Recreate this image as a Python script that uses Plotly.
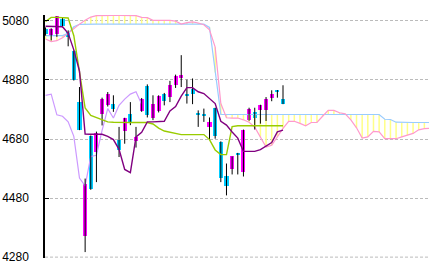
import plotly.graph_objects as go

# ---- data ----
opens  = [5054, 5028, 5037, 5086, 5042, 4978, 4805, 4353, 4689, 4636, 4766, 4794, 4800, 4676, 4707,
          4766, 4673, 4775, 4859, 4752, 4775, 4834, 4822, 4862, 4887, 4832, 4851, 4765, 4766, 4721,
          4786, 4670, 4555, 4577, 4633, 4568, 4746, 4771, 4777, 4777, 4820, 4845, 4814]
highs  = [5058, 5055, 5096, 5090, 5048, 4980, 4856, 4546, 4692, 4705, 4820, 4839, 4828, 4721, 4752,
          4805, 4721, 4819, 4865, 4828, 4828, 4836, 4877, 4898, 4964, 4881, 4885, 4777, 4783, 4753,
          4786, 4672, 4597, 4621, 4633, 4712, 4786, 4786, 4796, 4822, 4845, 4846, 4862]
lows   = [5030, 5014, 5026, 5058, 4994, 4878, 4710, 4297, 4508, 4534, 4726, 4790, 4772, 4619, 4664,
          4727, 4651, 4772, 4753, 4744, 4770, 4794, 4805, 4853, 4856, 4800, 4798, 4721, 4738, 4676,
          4681, 4534, 4489, 4560, 4560, 4553, 4742, 4712, 4732, 4741, 4808, 4820, 4798]
closes = [5035, 5052, 5096, 5063, 5026, 4880, 4712, 4526, 4511, 4700, 4814, 4831, 4781, 4642, 4752,
          4736, 4687, 4814, 4760, 4798, 4825, 4809, 4862, 4893, 4896, 4828, 4832, 4762, 4757, 4738,
          4689, 4548, 4521, 4621, 4625, 4709, 4783, 4751, 4794, 4815, 4832, 4840, 4798]

tenkan = [5062, 5062, 5062, 5060, 5038, 4982, 4910, 4697, 4696, 4696, 4696, 4689, 4678, 4645, 4577,
          4566, 4687, 4703, 4738, 4738, 4738, 4740, 4775, 4790, 4825, 4854, 4854, 4840, 4834, 4817,
          4800, 4740, 4727, 4704, 4683, 4638, 4638, 4638, 4644, 4655, 4668, 4704, 4710]
kijun  = [5078, 5092, 5092, 5092, 5090, 5030, 4905, 4785, 4760, 4752, 4745, 4738, 4737, 4736, 4736,
          4736, 4736, 4736, 4736, 4731, 4717, 4707, 4703, 4697, 4695, 4695, 4695, 4695, 4695, 4678,
          4643, 4627, 4627, 4722, 4725, 4725, 4725, 4725, 4725, 4725, 4725, 4725, 4725]

span_a = [5019, 5010, 5013, 5023, 5038, 5054, 5069, 5082, 5093, 5098, 5099, 5099, 5099, 5099, 5099,
          5099, 5098, 5092, 5091, 5082, 5082, 5082, 5082, 5079, 5069, 5074, 5077, 5073, 5067, 5050,
          4991, 4800, 4752, 4751, 4751, 4745, 4737, 4720, 4686, 4653, 4659, 4689, 4716, 4740, 4740,
          4733, 4725, 4736, 4736, 4757, 4777, 4777, 4769, 4765, 4745, 4718, 4683, 4687, 4706, 4704,
          4681, 4681, 4681, 4687, 4693, 4699, 4711, 4715, 4716]
span_b = [5030, 5030, 5030, 5030, 5038, 5060, 5068, 5069, 5069, 5069, 5069, 5069, 5069, 5069, 5069,
          5069, 5069, 5069, 5069, 5069, 5069, 5069, 5069, 5069, 5069, 5069, 5069, 5069, 5069, 5058,
          4905, 4763, 4763, 4763, 4763, 4763, 4763, 4763, 4763, 4763, 4763, 4763, 4763, 4763, 4763,
          4763, 4763, 4763, 4763, 4763, 4763, 4763, 4763, 4763, 4763, 4763, 4763, 4763, 4763, 4763,
          4747, 4746, 4737, 4736, 4736, 4736, 4736, 4736, 4736]

chikou_shift = 25
y_ticks = [4280, 4480, 4680, 4880, 5080]

# ---- styles ----
UP = "#ff00ff"
DOWN = "#00ccff"
GRID = "#bbbbbb"

n = len(closes)
idx = list(range(n))
cloud_idx = list(range(len(span_a)))

fig = go.Figure()

# cloud hatching (vertical yellow lines between the spans)
hx, hy = [], []
for i in cloud_idx:
    hx += [i, i, None]
    hy += [span_a[i], span_b[i], None]
fig.add_trace(go.Scatter(x=hx, y=hy, mode="lines", line=dict(color="#ffff88", width=1.5),
                         hoverinfo="skip"))

fig.add_trace(go.Scatter(x=cloud_idx, y=span_b, mode="lines", line=dict(color="#99ccff", width=1.2)))
fig.add_trace(go.Scatter(x=cloud_idx, y=span_a, mode="lines", line=dict(color="#ff99cc", width=1.2)))

# lagging span
chikou = closes[chikou_shift:]
fig.add_trace(go.Scatter(x=list(range(len(chikou))), y=chikou, mode="lines",
                         line=dict(color="#cc99ff", width=1.2)))

# wicks
wx, wy = [], []
for i in idx:
    wx += [i, i, None]
    wy += [lows[i], highs[i], None]
fig.add_trace(go.Scatter(x=wx, y=wy, mode="lines", line=dict(color="black", width=1)))

# bodies
base = [min(o, c) for o, c in zip(opens, closes)]
height = [max(abs(c - o), 3) for o, c in zip(opens, closes)]
colors = [UP if c >= o else DOWN for o, c in zip(opens, closes)]
fig.add_trace(go.Bar(x=idx, y=height, base=base, width=0.72, marker=dict(color=colors, line=dict(width=0))))

fig.add_trace(go.Scatter(x=idx, y=kijun, mode="lines", line=dict(color="#99cc00", width=1.4)))
fig.add_trace(go.Scatter(x=idx, y=tenkan, mode="lines", line=dict(color="#800080", width=1.4)))

# bottom grid line (plotly omits the one at the plot edge)
fig.add_shape(type="line", xref="paper", x0=0, x1=1, yref="y", y0=y_ticks[0], y1=y_ticks[0],
              line=dict(color=GRID, width=1, dash="3px,2px"), layer="below")

fig.update_layout(
    width=429, height=270,
    margin=dict(l=45, r=0, t=15, b=12),
    paper_bgcolor="white", plot_bgcolor="white",
    showlegend=False, hovermode=False,
    bargap=0,
)
fig.update_xaxes(range=[-0.097, 67.82], showgrid=False, showticklabels=False, zeroline=False,
                 showline=False, ticks="")
fig.update_yaxes(range=[4277, 5100], tickvals=y_ticks, ticktext=[str(v) for v in y_ticks],
                 showgrid=True, gridcolor=GRID, griddash="3px,2px", gridwidth=1,
                 showline=True, linecolor="black", linewidth=1.5, zeroline=False,
                 ticks="inside", ticklen=4, tickcolor="black", tickwidth=1,
                 ticklabelstandoff=12,
                 tickfont=dict(family="Liberation Sans", size=12, color="black"))

fig.write_html("out.html")
